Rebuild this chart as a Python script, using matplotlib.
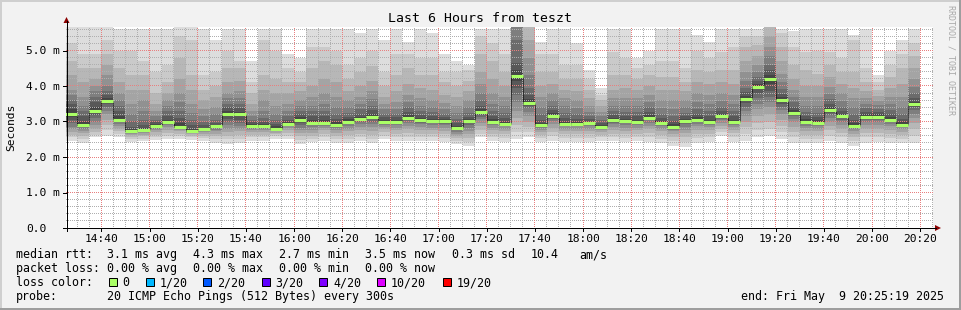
import matplotlib
matplotlib.use('Agg')
import matplotlib.pyplot as plt
from matplotlib.patches import Rectangle, Polygon
from matplotlib.lines import Line2D
import numpy as np

# ---------------- data ----------------
title = "Last 6 Hours from teszt"
ylabel = "Seconds"
start_min = 14 * 60 + 25 + 19 / 60.0   # 14:25:19
end_min = 20 * 60 + 25 + 19 / 60.0     # 20:25:19
first_bar_end = 14 * 60 + 30            # 14:30
step_min = 5
n_bars = 71

xtick_labels = ["14:40", "15:00", "15:20", "15:40", "16:00", "16:20", "16:40", "17:00",
                "17:20", "17:40", "18:00", "18:20", "18:40", "19:00", "19:20", "19:40",
                "20:00", "20:20"]
ytick_values = [0.0, 1.0, 2.0, 3.0, 4.0, 5.0]
ytick_labels = ["0.0", "1.0 m", "2.0 m", "3.0 m", "4.0 m", "5.0 m"]

median_ms = [3.21, 2.90, 3.29, 3.59, 3.04, 2.73, 2.77, 2.87, 2.99, 2.85,
             2.72, 2.78, 2.86, 3.21, 3.20, 2.87, 2.87, 2.80, 2.93, 3.04,
             2.97, 2.97, 2.91, 3.00, 3.07, 3.14, 2.99, 2.99, 3.11, 3.04,
             3.01, 3.01, 2.81, 3.01, 3.26, 2.99, 2.94, 4.27, 3.53, 2.89,
             3.16, 2.94, 2.94, 2.95, 2.85, 3.04, 3.01, 2.98, 3.11, 2.96,
             2.85, 3.01, 3.05, 2.98, 3.15, 2.98, 3.64, 3.97, 4.21, 3.61,
             3.25, 2.99, 2.97, 3.33, 3.15, 2.88, 3.14, 3.14, 3.05, 2.91,
             3.48]

# 20 sorted ping times (ms) per 5-minute step
pings_ms = [
    [2.46, 2.55, 2.62, 2.70, 2.78, 2.85, 2.95, 3.05, 3.12, 3.20, 3.22, 3.35, 3.50, 3.60, 3.75, 3.90, 4.30, 4.70, 5.20, 5.80],
    [2.39, 2.50, 2.60, 2.68, 2.74, 2.80, 2.85, 2.88, 2.89, 2.90, 2.91, 3.00, 3.15, 3.30, 3.45, 3.70, 4.10, 4.50, 4.90, 5.70],
    [2.55, 2.62, 2.70, 2.80, 2.90, 3.00, 3.10, 3.18, 3.24, 3.28, 3.30, 3.40, 3.55, 3.70, 3.85, 4.00, 4.20, 4.50, 4.90, 5.70],
    [2.60, 2.75, 2.90, 3.05, 3.20, 3.30, 3.40, 3.48, 3.55, 3.58, 3.60, 3.65, 3.75, 3.85, 4.00, 4.30, 4.60, 4.90, 5.30, 5.70],
    [2.55, 2.65, 2.72, 2.80, 2.87, 2.93, 2.98, 3.01, 3.03, 3.04, 3.05, 3.15, 3.30, 3.45, 3.60, 3.80, 4.10, 4.50, 5.00, 5.60],
    [2.43, 2.50, 2.56, 2.62, 2.66, 2.69, 2.70, 2.71, 2.72, 2.73, 2.74, 2.78, 2.85, 3.00, 3.20, 3.50, 3.90, 4.30, 5.00, 5.60],
    [2.45, 2.52, 2.58, 2.63, 2.68, 2.71, 2.73, 2.75, 2.76, 2.77, 2.78, 2.82, 2.90, 3.05, 3.30, 3.60, 3.90, 4.30, 4.70, 5.60],
    [2.48, 2.56, 2.63, 2.70, 2.75, 2.79, 2.82, 2.84, 2.86, 2.87, 2.88, 2.92, 2.98, 3.05, 3.15, 3.30, 3.50, 3.80, 4.40, 5.60],
    [2.50, 2.60, 2.68, 2.76, 2.84, 2.90, 2.94, 2.96, 2.98, 2.99, 3.00, 3.05, 3.15, 3.30, 3.45, 3.60, 3.80, 4.10, 4.60, 5.60],
    [2.50, 2.58, 2.65, 2.72, 2.77, 2.80, 2.82, 2.83, 2.84, 2.85, 2.86, 2.95, 3.10, 3.30, 3.55, 3.80, 4.20, 4.80, 5.40, 5.70],
    [2.48, 2.55, 2.60, 2.64, 2.67, 2.69, 2.70, 2.71, 2.72, 2.72, 2.73, 2.78, 2.90, 3.05, 3.25, 3.50, 3.90, 4.30, 5.30, 5.70],
    [2.45, 2.53, 2.60, 2.66, 2.70, 2.73, 2.75, 2.76, 2.77, 2.78, 2.79, 2.83, 2.90, 3.00, 3.15, 3.35, 3.60, 3.90, 4.30, 5.60],
    [2.40, 2.50, 2.58, 2.66, 2.72, 2.77, 2.81, 2.84, 2.85, 2.86, 2.87, 2.91, 2.97, 3.05, 3.20, 3.40, 3.70, 4.00, 4.40, 5.30],
    [2.38, 2.50, 2.60, 2.70, 2.80, 2.90, 3.00, 3.08, 3.15, 3.20, 3.22, 3.30, 3.40, 3.50, 3.65, 3.80, 4.10, 4.50, 5.00, 5.60],
    [2.40, 2.52, 2.62, 2.72, 2.80, 2.88, 2.95, 3.05, 3.15, 3.19, 3.21, 3.28, 3.38, 3.50, 3.65, 3.85, 4.15, 4.50, 4.70, 5.60],
    [2.45, 2.55, 2.63, 2.70, 2.75, 2.79, 2.82, 2.84, 2.86, 2.87, 2.88, 2.92, 2.98, 3.05, 3.15, 3.30, 3.50, 3.80, 4.10, 4.70],
    [2.45, 2.55, 2.63, 2.70, 2.75, 2.79, 2.82, 2.84, 2.86, 2.87, 2.88, 2.93, 3.00, 3.10, 3.30, 3.60, 3.90, 4.30, 5.30, 5.60],
    [2.50, 2.58, 2.64, 2.69, 2.73, 2.76, 2.78, 2.79, 2.80, 2.80, 2.81, 2.86, 2.94, 3.05, 3.20, 3.45, 3.80, 4.20, 5.00, 5.60],
    [2.50, 2.60, 2.68, 2.76, 2.82, 2.86, 2.89, 2.91, 2.92, 2.93, 2.94, 2.99, 3.05, 3.15, 3.30, 3.50, 3.80, 4.10, 4.50, 4.90],
    [2.36, 2.48, 2.58, 2.68, 2.76, 2.83, 2.90, 2.96, 3.01, 3.03, 3.05, 3.12, 3.20, 3.30, 3.45, 3.60, 3.85, 4.10, 4.40, 4.78],
    [2.42, 2.52, 2.60, 2.68, 2.76, 2.84, 2.90, 2.94, 2.96, 2.97, 2.98, 3.05, 3.15, 3.30, 3.45, 3.70, 4.00, 4.50, 5.10, 5.60],
    [2.45, 2.55, 2.65, 2.75, 2.82, 2.88, 2.92, 2.95, 2.96, 2.97, 2.98, 3.05, 3.15, 3.30, 3.50, 3.80, 4.20, 4.70, 5.10, 5.60],
    [2.40, 2.50, 2.60, 2.68, 2.75, 2.81, 2.86, 2.89, 2.90, 2.91, 2.92, 2.98, 3.08, 3.20, 3.40, 3.70, 4.10, 4.60, 5.00, 5.60],
    [2.40, 2.52, 2.62, 2.72, 2.80, 2.88, 2.94, 2.97, 2.99, 3.00, 3.01, 3.06, 3.14, 3.25, 3.40, 3.60, 3.85, 4.20, 4.60, 5.60],
    [2.45, 2.56, 2.66, 2.76, 2.85, 2.93, 2.99, 3.03, 3.05, 3.07, 3.08, 3.14, 3.22, 3.35, 3.50, 3.70, 4.00, 4.40, 4.80, 5.50],
    [2.40, 2.52, 2.63, 2.74, 2.84, 2.93, 3.00, 3.06, 3.10, 3.13, 3.15, 3.22, 3.32, 3.45, 3.62, 3.85, 4.15, 4.55, 5.00, 5.60],
    [2.50, 2.60, 2.70, 2.78, 2.85, 2.91, 2.95, 2.97, 2.98, 2.99, 3.00, 3.05, 3.12, 3.22, 3.35, 3.50, 3.70, 4.00, 4.40, 5.30],
    [2.45, 2.56, 2.66, 2.75, 2.83, 2.90, 2.95, 2.97, 2.98, 2.99, 3.00, 3.05, 3.12, 3.22, 3.35, 3.55, 3.85, 4.30, 4.90, 5.60],
    [2.45, 2.57, 2.68, 2.78, 2.87, 2.95, 3.02, 3.07, 3.09, 3.10, 3.12, 3.18, 3.27, 3.40, 3.55, 3.75, 4.05, 4.50, 4.90, 5.25],
    [2.45, 2.56, 2.66, 2.76, 2.84, 2.92, 2.97, 3.00, 3.02, 3.03, 3.05, 3.10, 3.18, 3.30, 3.45, 3.65, 3.95, 4.30, 4.80, 5.60],
    [2.45, 2.56, 2.66, 2.75, 2.83, 2.90, 2.95, 2.98, 3.00, 3.01, 3.02, 3.07, 3.15, 3.27, 3.42, 3.60, 3.90, 4.30, 4.80, 5.50],
    [2.42, 2.54, 2.64, 2.74, 2.82, 2.89, 2.94, 2.98, 3.00, 3.01, 3.02, 3.06, 3.12, 3.22, 3.35, 3.52, 3.75, 4.10, 4.40, 4.90],
    [2.36, 2.45, 2.53, 2.60, 2.66, 2.71, 2.75, 2.78, 2.80, 2.81, 2.82, 2.88, 2.96, 3.08, 3.25, 3.45, 3.70, 4.00, 4.40, 4.70],
    [2.30, 2.42, 2.53, 2.64, 2.74, 2.83, 2.90, 2.96, 2.99, 3.01, 3.02, 3.07, 3.14, 3.25, 3.40, 3.60, 3.85, 4.15, 4.45, 4.60],
    [2.55, 2.66, 2.77, 2.87, 2.97, 3.06, 3.13, 3.19, 3.23, 3.25, 3.27, 3.35, 3.45, 3.60, 3.80, 4.05, 4.40, 4.90, 5.40, 5.60],
    [2.45, 2.56, 2.66, 2.75, 2.83, 2.90, 2.95, 2.97, 2.98, 2.99, 3.00, 3.06, 3.15, 3.30, 3.50, 3.80, 4.20, 4.70, 5.20, 5.60],
    [2.42, 2.54, 2.64, 2.73, 2.80, 2.86, 2.90, 2.92, 2.93, 2.94, 2.95, 3.00, 3.10, 3.25, 3.45, 3.70, 4.00, 4.40, 4.90, 5.60],
    [2.50, 2.70, 2.90, 3.10, 3.30, 3.55, 3.75, 3.95, 4.15, 4.25, 4.29, 4.45, 4.65, 5.30, 5.70, 5.80, 5.90, 6.00, 6.10, 6.20],
    [2.55, 2.70, 2.85, 3.00, 3.15, 3.28, 3.38, 3.45, 3.50, 3.52, 3.54, 3.62, 3.75, 3.95, 4.30, 4.80, 5.30, 5.70, 5.80, 5.90],
    [2.42, 2.53, 2.63, 2.71, 2.77, 2.82, 2.85, 2.87, 2.88, 2.89, 2.90, 2.95, 3.05, 3.20, 3.40, 3.70, 4.00, 4.40, 4.90, 5.25],
    [2.45, 2.58, 2.70, 2.82, 2.93, 3.02, 3.08, 3.12, 3.14, 3.15, 3.17, 3.23, 3.32, 3.45, 3.60, 3.80, 4.05, 4.40, 4.90, 5.60],
    [2.42, 2.54, 2.64, 2.73, 2.80, 2.86, 2.90, 2.92, 2.93, 2.94, 2.95, 3.00, 3.10, 3.25, 3.45, 3.65, 3.90, 4.20, 4.60, 5.60],
    [2.42, 2.54, 2.64, 2.73, 2.80, 2.86, 2.90, 2.92, 2.93, 2.94, 2.95, 3.00, 3.08, 3.20, 3.38, 3.60, 3.85, 4.20, 4.60, 5.20],
    [2.42, 2.54, 2.64, 2.73, 2.80, 2.86, 2.90, 2.93, 2.94, 2.95, 2.96, 3.00, 3.07, 3.16, 3.28, 3.45, 3.65, 3.90, 4.20, 4.45],
    [2.45, 2.55, 2.63, 2.70, 2.75, 2.79, 2.82, 2.84, 2.85, 2.85, 2.86, 2.90, 2.97, 3.05, 3.15, 3.28, 3.45, 3.60, 3.75, 3.95],
    [2.45, 2.56, 2.66, 2.76, 2.85, 2.92, 2.97, 3.01, 3.03, 3.04, 3.05, 3.10, 3.18, 3.30, 3.45, 3.65, 3.90, 4.30, 4.95, 5.60],
    [2.42, 2.54, 2.64, 2.74, 2.82, 2.89, 2.95, 2.98, 3.00, 3.01, 3.02, 3.08, 3.16, 3.28, 3.45, 3.65, 3.95, 4.30, 4.80, 5.60],
    [2.45, 2.56, 2.66, 2.75, 2.83, 2.90, 2.94, 2.96, 2.97, 2.98, 2.99, 3.05, 3.15, 3.28, 3.45, 3.65, 3.90, 4.20, 4.50, 4.80],
    [2.42, 2.55, 2.67, 2.78, 2.88, 2.96, 3.03, 3.07, 3.09, 3.10, 3.12, 3.18, 3.27, 3.40, 3.55, 3.75, 4.00, 4.30, 4.60, 5.00],
    [2.40, 2.52, 2.62, 2.72, 2.80, 2.87, 2.92, 2.94, 2.95, 2.96, 2.97, 3.02, 3.10, 3.22, 3.38, 3.60, 3.90, 4.25, 4.70, 5.60],
    [2.32, 2.44, 2.55, 2.64, 2.72, 2.77, 2.81, 2.83, 2.84, 2.85, 2.86, 2.92, 3.02, 3.15, 3.35, 3.60, 3.90, 4.25, 4.70, 5.60],
    [2.28, 2.42, 2.55, 2.67, 2.77, 2.85, 2.92, 2.97, 3.00, 3.01, 3.02, 3.07, 3.15, 3.25, 3.40, 3.60, 3.85, 4.10, 4.50, 5.60],
    [2.40, 2.53, 2.65, 2.76, 2.86, 2.94, 3.00, 3.03, 3.04, 3.05, 3.06, 3.12, 3.22, 3.35, 3.55, 3.80, 4.10, 4.45, 5.00, 5.45],
    [2.42, 2.55, 2.66, 2.76, 2.84, 2.90, 2.94, 2.96, 2.97, 2.98, 2.99, 3.05, 3.15, 3.30, 3.50, 3.75, 4.05, 4.40, 4.80, 5.25],
    [2.60, 2.70, 2.80, 2.88, 2.96, 3.03, 3.08, 3.12, 3.14, 3.15, 3.16, 3.22, 3.30, 3.42, 3.58, 3.80, 4.10, 4.45, 4.95, 5.60],
    [2.42, 2.55, 2.67, 2.77, 2.85, 2.91, 2.95, 2.97, 2.98, 2.98, 2.99, 3.05, 3.15, 3.30, 3.50, 3.75, 4.05, 4.45, 5.10, 5.60],
    [2.45, 2.65, 2.85, 3.00, 3.15, 3.30, 3.42, 3.52, 3.60, 3.63, 3.65, 3.72, 3.82, 3.95, 4.15, 4.40, 4.70, 5.10, 5.40, 5.60],
    [2.55, 2.75, 2.95, 3.15, 3.35, 3.50, 3.65, 3.80, 3.92, 3.96, 3.98, 4.05, 4.15, 4.25, 4.40, 4.60, 4.85, 5.15, 5.40, 5.60],
    [2.58, 2.80, 3.00, 3.20, 3.40, 3.55, 3.70, 3.85, 4.05, 4.18, 4.23, 4.32, 4.45, 4.60, 4.85, 5.10, 5.40, 5.70, 5.80, 5.90],
    [2.50, 2.70, 2.88, 3.05, 3.20, 3.32, 3.42, 3.50, 3.56, 3.60, 3.62, 3.68, 3.78, 3.92, 4.10, 4.35, 4.70, 5.10, 5.50, 5.60],
    [2.40, 2.55, 2.70, 2.85, 2.98, 3.08, 3.15, 3.20, 3.23, 3.25, 3.27, 3.33, 3.42, 3.55, 3.70, 3.90, 4.20, 4.60, 5.10, 5.55],
    [2.40, 2.52, 2.63, 2.73, 2.81, 2.88, 2.93, 2.96, 2.98, 2.99, 3.00, 3.06, 3.15, 3.28, 3.45, 3.70, 4.00, 4.45, 4.95, 5.60],
    [2.40, 2.52, 2.63, 2.72, 2.80, 2.87, 2.92, 2.95, 2.96, 2.97, 2.98, 3.04, 3.12, 3.25, 3.45, 3.70, 4.00, 4.35, 5.00, 5.60],
    [2.45, 2.60, 2.75, 2.88, 3.00, 3.10, 3.18, 3.25, 3.30, 3.32, 3.34, 3.40, 3.50, 3.62, 3.78, 3.98, 4.25, 4.60, 4.95, 5.60],
    [2.40, 2.55, 2.68, 2.80, 2.90, 2.98, 3.05, 3.10, 3.13, 3.15, 3.16, 3.22, 3.30, 3.42, 3.58, 3.80, 4.05, 4.40, 4.80, 5.60],
    [2.32, 2.45, 2.56, 2.66, 2.74, 2.80, 2.84, 2.86, 2.87, 2.88, 2.89, 2.95, 3.05, 3.20, 3.40, 3.65, 3.95, 4.40, 5.30, 5.45],
    [2.40, 2.55, 2.68, 2.80, 2.90, 2.98, 3.05, 3.10, 3.12, 3.13, 3.15, 3.20, 3.28, 3.38, 3.50, 3.65, 3.85, 4.10, 4.50, 5.60],
    [2.42, 2.56, 2.68, 2.80, 2.90, 2.98, 3.05, 3.10, 3.12, 3.13, 3.15, 3.20, 3.27, 3.36, 3.46, 3.58, 3.72, 3.90, 4.10, 4.30],
    [2.40, 2.53, 2.65, 2.76, 2.86, 2.94, 3.00, 3.03, 3.04, 3.05, 3.06, 3.12, 3.20, 3.32, 3.48, 3.68, 3.95, 4.25, 4.60, 5.00],
    [2.40, 2.52, 2.62, 2.71, 2.78, 2.84, 2.88, 2.90, 2.91, 2.91, 2.92, 2.98, 3.08, 3.22, 3.42, 3.70, 4.05, 4.50, 4.90, 5.30],
    [2.40, 2.60, 2.78, 2.95, 3.10, 3.22, 3.32, 3.40, 3.45, 3.47, 3.49, 3.55, 3.65, 3.80, 3.98, 4.20, 4.50, 4.85, 5.20, 5.60],
]

loss_labels = ["0", "1/20", "2/20", "3/20", "4/20", "10/20", "19/20"]
loss_colors = ["#aaff66", "#00b8ff", "#0059ff", "#5e00ff", "#7e00ff", "#dd00ff", "#ff0000"]

stats_rtt = ["3.1 ms avg", "4.3 ms max", "2.7 ms min", "3.5 ms now", "0.3 ms sd"]
stats_am = ["10.4", "am/s"]
stats_loss = ["0.00 % avg", "0.00 % max", "0.00 % min", "0.00 % now"]
probe_text = "20 ICMP Echo Pings (512 Bytes) every 300s"
end_text = "end: Fri May  9 20:25:19 2025"
credit = "RRDTOOL / TOBI OETIKER"

# ---------------- figure ----------------
W, H, DPI = 961, 310, 100
MONO = "DejaVu Sans Mono"
fig = plt.figure(figsize=(W / DPI, H / DPI), dpi=DPI, facecolor="#f2f2f2")

def fx(x):
    return x / W

def fy(y):
    return 1 - y / H

px_per_ms = 35.5
AX_W, AX_H = 867, 201
ax_left, ax_bottom = 66.0, 228.0
ax_right = ax_left + AX_W
YTOP = AX_H / px_per_ms
ax = fig.add_axes([fx(ax_left), fy(ax_bottom), AX_W / W, AX_H / H])
ax.set_facecolor("white")
ax.set_xlim(start_min, end_min)
ax.set_ylim(0, YTOP)
for s in ax.spines.values():
    s.set_visible(False)
ax.set_xticks([])
ax.set_yticks([])

bar_end = np.array([first_bar_end + step_min * i for i in range(n_bars)], dtype=float)
centers = bar_end - step_min / 2.0
P = np.array(pings_ms)
half = 10
for k in range(1, half + 1):
    g = int(190 / half * (half - k)) + 50
    col = "#%02x%02x%02x" % (g, g, g)
    lo = P[:, k - 1]
    hi = P[:, 20 - k]
    ax.bar(centers, hi - lo, bottom=lo, width=step_min, color=col, linewidth=0,
           align="center", zorder=2, antialiased=False)

# grid: 1px-on/1px-off dots rendered as a pixel-exact overlay
minor_rgba = np.array([0.69, 0.69, 0.69, 1.0])
major_rgba = np.array([0.91, 0.50, 0.50, 1.0])
grid_img = np.zeros((AX_H, AX_W, 4))

def col_of(t):
    return int(round((t - start_min) / (end_min - start_min) * AX_W - 0.5))

def row_of(v):
    return int(round(AX_H - v / YTOP * AX_H - 0.5))

minor_y = [0.2 * i for i in range(1, int(YTOP / 0.2) + 1)]
major_y = ytick_values[1:]
grid_t = np.arange(first_bar_end - 5, end_min + 0.01, step_min)
major_t = [14 * 60 + 40 + 20 * i for i in range(len(xtick_labels))]
for v in minor_y:
    r = row_of(v)
    if 0 <= r < AX_H:
        grid_img[r, 0::2] = minor_rgba
for t in grid_t:
    c = col_of(t)
    if 0 <= c < AX_W:
        grid_img[1::2, c] = minor_rgba
for v in major_y:
    r = row_of(v)
    grid_img[r, 0::2] = major_rgba
for t in major_t:
    c = col_of(t)
    grid_img[1::2, c] = major_rgba
ax.imshow(grid_img, extent=(start_min, end_min, 0, YTOP), aspect="auto",
          interpolation="nearest", zorder=3)
ax.set_xlim(start_min, end_min)
ax.set_ylim(0, YTOP)

# median line
lw1 = 72.0 / DPI
med = np.array(median_ms)
ax.vlines(bar_end[:-1], np.minimum(med[:-1], med[1:]), np.maximum(med[:-1], med[1:]),
          colors="#000000", lw=lw1, alpha=0.55, zorder=4)
ax.hlines(med, bar_end - step_min, bar_end, colors=loss_colors[0], lw=2.2, zorder=5)

# axes lines and arrows
fig.add_artist(Line2D([fx(ax_left + 0.5), fx(ax_left + 0.5)], [fy(ax_bottom + 3), fy(21)], color="black", lw=lw1))
fig.add_artist(Line2D([fx(ax_left - 3), fx(936)], [fy(ax_bottom), fy(ax_bottom)], color="black", lw=lw1))
fig.add_artist(Polygon([[fx(ax_left - 2.5), fy(23)], [fx(ax_left + 3.5), fy(23)], [fx(ax_left + 0.5), fy(17)]],
                       closed=True, color="#8b0000", lw=0))
fig.add_artist(Polygon([[fx(935), fy(ax_bottom - 3)], [fx(935), fy(ax_bottom + 3)], [fx(941), fy(ax_bottom)]],
                       closed=True, color="#8b0000", lw=0))

# y tick labels and ticks
for v, lab in zip(ytick_values, ytick_labels):
    ypx = ax_bottom - v * px_per_ms
    fig.text(fx(26), fy(ypx + 4), lab, family=MONO, fontsize=8.1, ha="left", va="baseline")
    fig.add_artist(Line2D([fx(ax_left - 3), fx(ax_left)], [fy(ypx), fy(ypx)], color="black", lw=lw1))

# x tick labels
x_per_min = AX_W / (end_min - start_min)
for t, lab in zip(major_t, xtick_labels):
    xpx = ax_left + (t - start_min) * x_per_min
    fig.text(fx(xpx), fy(241.5), lab, family=MONO, fontsize=8.1, ha="center", va="baseline")
    fig.add_artist(Line2D([fx(xpx), fx(xpx)], [fy(ax_bottom), fy(ax_bottom + 3)], color="black", lw=lw1))

# titles
fig.text(fx(388.3), fy(22), title, family=MONO, fontsize=9.5, ha="left", va="baseline")
fig.text(fx(11), fy(127), ylabel, family=MONO, fontsize=8.1, rotation=90, ha="center", va="center")
fig.text(fx(950.5), fy(5), credit, family=MONO, fontsize=6.0, rotation=270, ha="center", va="top",
         color="#a8a8a8")

# legend
FS = 8.4
b1, b2, b3, b4 = 258.3, 272.3, 286.0, 300.3
fig.text(fx(16), fy(b1), "median rtt:", family=MONO, fontsize=FS, va="baseline")
for xx, s in zip([107.3, 193.3, 279.3, 365.3, 451.7], stats_rtt):
    fig.text(fx(xx), fy(b1), s, family=MONO, fontsize=FS, va="baseline")
fig.text(fx(530.7), fy(b1), stats_am[0], family=MONO, fontsize=FS, va="baseline")
fig.text(fx(579.3), fy(b1), stats_am[1], family=MONO, fontsize=FS, va="baseline")

fig.text(fx(16), fy(b2), "packet loss:", family=MONO, fontsize=FS, va="baseline")
for xx, s in zip([107.3, 193.3, 279.3, 365.3], stats_loss):
    fig.text(fx(xx), fy(b2), s, family=MONO, fontsize=FS, va="baseline")

fig.text(fx(16), fy(b3), "loss color:", family=MONO, fontsize=FS, va="baseline")
box_x = [108.7, 145.7, 203.3, 261.7, 319.3, 377.0, 442.7]
for bx, lab, col in zip(box_x, loss_labels, loss_colors):
    fig.add_artist(Rectangle((fx(bx), fy(286.3)), 8 / W, 8 / H, facecolor=col,
                             edgecolor="black", lw=lw1))
    fig.text(fx(bx + 14), fy(b3), lab, family=MONO, fontsize=FS, va="baseline")

fig.text(fx(16), fy(b4), "probe:", family=MONO, fontsize=FS, va="baseline")
fig.text(fx(107.3), fy(b4), probe_text, family=MONO, fontsize=FS, va="baseline")
fig.text(fx(944.3), fy(b4), end_text, family=MONO, fontsize=FS, va="baseline", ha="right")

# frame
fig.add_artist(Line2D([0, 1], [fy(0.5), fy(0.5)], color="#cfcfcf", lw=1.44))
fig.add_artist(Line2D([fx(0.5), fx(0.5)], [0, 1], color="#cfcfcf", lw=1.44))
fig.add_artist(Line2D([0, 1], [fy(309.3), fy(309.3)], color="#9e9e9e", lw=1.44))
fig.add_artist(Line2D([fx(960.3), fx(960.3)], [0, 1], color="#9e9e9e", lw=1.44))

fig.savefig("out.png", dpi=DPI, facecolor=fig.get_facecolor())
